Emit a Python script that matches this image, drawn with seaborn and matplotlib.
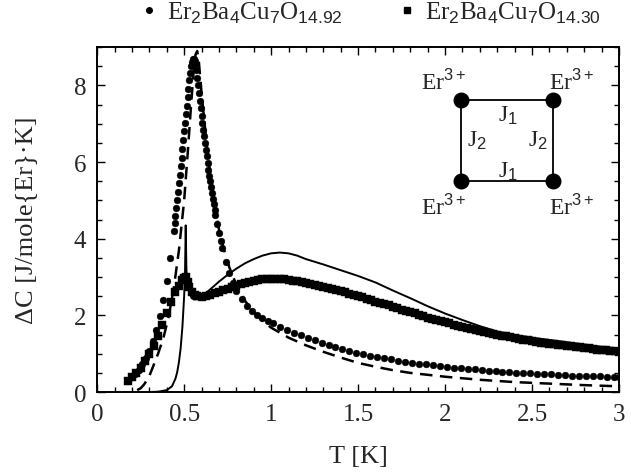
import numpy as np
import pandas as pd
import seaborn as sns
import matplotlib.pyplot as plt
from matplotlib.ticker import MultipleLocator

# measured points, Er2Ba4Cu7O14.92 (circles)
t_092 = [0.18, 0.20, 0.22, 0.24, 0.26, 0.28, 0.30, 0.32, 0.34, 0.36, 0.38, 0.40, 0.42, 0.44,
         0.445, 0.45, 0.455, 0.46, 0.465, 0.47, 0.475, 0.48, 0.485, 0.49, 0.495, 0.50, 0.505,
         0.51, 0.515, 0.52, 0.525, 0.53, 0.535, 0.54, 0.545, 0.55, 0.555, 0.56, 0.565, 0.57,
         0.575, 0.58, 0.585, 0.59, 0.595, 0.60, 0.605, 0.61, 0.615, 0.62, 0.625, 0.63, 0.635,
         0.64, 0.645, 0.65, 0.655, 0.66, 0.665, 0.67, 0.675, 0.68, 0.69, 0.70, 0.71, 0.72,
         0.74, 0.76, 0.78, 0.80, 0.83, 0.86, 0.89, 0.92, 0.95, 0.98, 1.01, 1.05, 1.09, 1.13,
         1.17, 1.21, 1.25, 1.29, 1.33, 1.37, 1.41, 1.45, 1.49, 1.53, 1.57, 1.61, 1.65, 1.69,
         1.73, 1.77, 1.81, 1.85, 1.89, 1.93, 1.97, 2.01, 2.05, 2.09, 2.13, 2.17, 2.21, 2.25,
         2.29, 2.33, 2.37, 2.41, 2.45, 2.49, 2.53, 2.57, 2.61, 2.65, 2.69, 2.73, 2.77, 2.81,
         2.85, 2.89, 2.93, 2.97, 3.00]
c_092 = [0.30, 0.38, 0.47, 0.58, 0.72, 0.88, 1.08, 1.32, 1.62, 1.98, 2.40, 2.90, 3.50, 4.20,
         4.40, 4.60, 4.80, 5.00, 5.22, 5.45, 5.67, 5.90, 6.12, 6.35, 6.57, 6.80, 7.02,
         7.25, 7.47, 7.70, 7.92, 8.15, 8.33, 8.50, 8.62, 8.70, 8.70, 8.65, 8.55, 8.40,
         8.20, 8.00, 7.80, 7.60, 7.40, 7.20, 7.02, 6.85, 6.67, 6.50, 6.32, 6.15, 5.97,
         5.80, 5.65, 5.50, 5.35, 5.20, 5.05, 4.90, 4.76, 4.62, 4.38, 4.15, 3.95, 3.75,
         3.40, 3.10, 2.85, 2.65, 2.42, 2.25, 2.12, 2.02, 1.94, 1.86, 1.79, 1.70, 1.62, 1.55,
         1.48, 1.41, 1.35, 1.29, 1.23, 1.17, 1.12, 1.07, 1.02, 0.98, 0.94, 0.91, 0.88, 0.85,
         0.82, 0.79, 0.77, 0.74, 0.72, 0.70, 0.68, 0.66, 0.64, 0.62, 0.60, 0.59, 0.57, 0.56,
         0.54, 0.53, 0.52, 0.51, 0.50, 0.49, 0.48, 0.47, 0.46, 0.45, 0.44, 0.43, 0.43, 0.42,
         0.41, 0.41, 0.40, 0.39, 0.39]

# measured points, Er2Ba4Cu7O14.30 (squares)
t_030 = [0.175, 0.20, 0.225, 0.25, 0.275, 0.30, 0.325, 0.35, 0.375, 0.40, 0.425, 0.45, 0.47,
         0.49, 0.50, 0.51, 0.52, 0.53, 0.545, 0.56, 0.575, 0.60, 0.625, 0.65, 0.675, 0.70,
         0.725, 0.75, 0.775, 0.80, 0.825, 0.85, 0.875, 0.90, 0.925, 0.95, 0.975, 1.00, 1.025,
         1.05, 1.075, 1.10, 1.125, 1.15, 1.175, 1.20, 1.225, 1.25, 1.275, 1.30, 1.325, 1.35,
         1.375, 1.40, 1.425, 1.45, 1.475, 1.50, 1.525, 1.55, 1.575, 1.60, 1.625, 1.65, 1.675,
         1.70, 1.725, 1.75, 1.775, 1.80, 1.825, 1.85, 1.875, 1.90, 1.925, 1.95, 1.975, 2.00,
         2.025, 2.05, 2.075, 2.10, 2.125, 2.15, 2.175, 2.20, 2.225, 2.25, 2.275, 2.30, 2.325,
         2.35, 2.375, 2.40, 2.425, 2.45, 2.475, 2.50, 2.525, 2.55, 2.575, 2.60, 2.625, 2.65,
         2.675, 2.70, 2.725, 2.75, 2.775, 2.80, 2.825, 2.85, 2.875, 2.90, 2.925, 2.95, 2.975,
         3.00]
c_030 = [0.28, 0.38, 0.50, 0.64, 0.80, 0.98, 1.20, 1.45, 1.75, 2.05, 2.35, 2.60, 2.78,
         2.92, 2.98, 3.00, 2.88, 2.75, 2.62, 2.54, 2.50, 2.48, 2.50, 2.54, 2.58, 2.62,
         2.66, 2.70, 2.74, 2.78, 2.82, 2.85, 2.88, 2.91, 2.93, 2.95, 2.96, 2.96, 2.96,
         2.95, 2.94, 2.93, 2.91, 2.89, 2.87, 2.85, 2.82, 2.80, 2.77, 2.75, 2.72, 2.69,
         2.66, 2.63, 2.60, 2.57, 2.54, 2.50, 2.47, 2.43, 2.40, 2.36, 2.33, 2.29, 2.26,
         2.22, 2.19, 2.15, 2.12, 2.08, 2.05, 2.01, 1.98, 1.94, 1.91, 1.88, 1.85, 1.82,
         1.79, 1.76, 1.73, 1.70, 1.67, 1.64, 1.61, 1.59, 1.56, 1.54, 1.51, 1.49, 1.47,
         1.45, 1.43, 1.41, 1.39, 1.37, 1.35, 1.33, 1.31, 1.29, 1.28, 1.26, 1.25, 1.23,
         1.22, 1.21, 1.19, 1.18, 1.17, 1.15, 1.14, 1.13, 1.11, 1.10, 1.09, 1.07, 1.06,
         1.05]

# model curves
t_solid = [0.30, 0.35, 0.40, 0.43, 0.45, 0.46, 0.47, 0.48, 0.49, 0.50, 0.505, 0.509, 0.513,
           0.52, 0.53, 0.54, 0.555, 0.57, 0.59, 0.62, 0.66, 0.70, 0.75, 0.80, 0.85, 0.90,
           0.95, 1.00, 1.05, 1.10, 1.15, 1.20, 1.30, 1.40, 1.50, 1.60, 1.70, 1.80, 1.90,
           2.00, 2.10, 2.20, 2.30, 2.40, 2.50, 2.60, 2.70, 2.80, 2.90, 3.00]
c_solid = [0.00, 0.01, 0.05, 0.15, 0.35, 0.52, 0.78, 1.15, 1.70, 2.50, 3.10, 4.35, 3.20,
           2.80, 2.60, 2.48, 2.42, 2.42, 2.46, 2.56, 2.72, 2.88, 3.06, 3.22, 3.36, 3.47,
           3.56, 3.62, 3.64, 3.62, 3.56, 3.47, 3.33, 3.18, 3.03, 2.86, 2.65, 2.45, 2.24,
           2.05, 1.88, 1.72, 1.58, 1.49, 1.42, 1.36, 1.30, 1.24, 1.18, 1.13]

t_dash = [0.23, 0.25, 0.27, 0.30, 0.32, 0.35, 0.38, 0.41, 0.44, 0.47, 0.50, 0.52, 0.54,
          0.555, 0.565, 0.575, 0.585, 0.60, 0.62, 0.64, 0.66, 0.68, 0.70, 0.73, 0.76, 0.80,
          0.85, 0.90, 0.95, 1.00, 1.10, 1.20, 1.30, 1.40, 1.50, 1.60, 1.70, 1.80, 1.90,
          2.00, 2.20, 2.40, 2.60, 2.80, 3.00]
c_dash = [0.05, 0.10, 0.20, 0.42, 0.65, 1.00, 1.40, 1.95, 2.70, 3.70, 5.00, 6.20, 7.50,
          8.40, 8.80, 8.90, 8.60, 7.80, 6.90, 6.05, 5.35, 4.75, 4.25, 3.70, 3.25, 2.80,
          2.38, 2.08, 1.86, 1.68, 1.42, 1.22, 1.05, 0.90, 0.76, 0.66, 0.57, 0.50, 0.45,
          0.40, 0.32, 0.26, 0.22, 0.18, 0.15]

label_092 = r'Er$_2$Ba$_4$Cu$_7$O$_{14.92}$'
label_030 = r'Er$_2$Ba$_4$Cu$_7$O$_{14.30}$'

sns.set_style('ticks')
plt.rcParams['font.family'] = ['Liberation Serif', 'DejaVu Serif']
plt.rcParams['mathtext.fontset'] = 'custom'
plt.rcParams['mathtext.rm'] = 'Liberation Sans'
plt.rcParams['mathtext.it'] = 'Liberation Sans:italic'

fig, ax = plt.subplots(figsize=(6.31, 4.77), dpi=100)
fig.subplots_adjust(left=0.154, right=0.981, bottom=0.176, top=0.899)

df_092 = pd.DataFrame({'T': t_092, 'C': c_092})
df_030 = pd.DataFrame({'T': t_030, 'C': c_030})

sns.lineplot(x=t_solid, y=c_solid, ax=ax, color='black', lw=1.4, sort=False)
sns.lineplot(x=t_dash, y=c_dash, ax=ax, color='black', lw=1.8, sort=False,
             linestyle=(0, (5, 3)))
sns.scatterplot(data=df_030, x='T', y='C', ax=ax, marker='s', s=28, color='black',
                edgecolor='black', linewidth=0.3)
sns.scatterplot(data=df_092, x='T', y='C', ax=ax, marker='o', s=24, color='black',
                edgecolor='black', linewidth=0.3)

ax.set_xlim(0, 3)
ax.set_ylim(0, 9)
ax.xaxis.set_major_locator(MultipleLocator(0.5))
ax.xaxis.set_minor_locator(MultipleLocator(0.1))
ax.yaxis.set_major_locator(MultipleLocator(2))
ax.yaxis.set_minor_locator(MultipleLocator(0.5))
ax.set_xticks([0, 0.5, 1, 1.5, 2, 2.5, 3])
ax.set_xticklabels(['0', '0.5', '1', '1.5', '2', '2.5', '3'])
ax.tick_params(which='both', direction='in', top=True, right=True, labelsize=18,
               width=1.0, color='black')
ax.tick_params(which='major', length=6, pad=8)
ax.tick_params(which='minor', length=3.5)
for sp in ax.spines.values():
    sp.set_linewidth(1.4)
    sp.set_color('black')

ax.set_xlabel('T [K]', fontsize=19, labelpad=14)
ax.set_ylabel('ΔC [J/mole{Er}·K]', fontsize=19, labelpad=26)

# legend on top
h1 = plt.Line2D([], [], marker='o', color='black', linestyle='none', markersize=4)
h2 = plt.Line2D([], [], marker='s', color='black', linestyle='none', markersize=4.5)
ax.legend([h1, h2], [label_092, label_030], loc='lower center',
          bbox_to_anchor=(0.525, 1.035), ncol=2, frameon=False, fontsize=18,
          handlelength=0.6, handletextpad=0.4, columnspacing=2.3, borderaxespad=0.0)

# plaquette sketch
sq_x = [0.697, 0.873, 0.873, 0.697, 0.697]
sq_y = [0.847, 0.847, 0.611, 0.611, 0.847]
ax.plot(sq_x, sq_y, transform=ax.transAxes, color='black', lw=1.3)
ax.scatter(sq_x[:4], sq_y[:4], transform=ax.transAxes, s=110, color='black', zorder=5)
er = r'Er$^{3+}$'
for ex, ey in [(0.663, 0.901), (0.910, 0.901), (0.663, 0.539), (0.910, 0.539)]:
    ax.text(ex, ey, er, transform=ax.transAxes, fontsize=17, ha='center', va='center')
for jx, jy, jl in [(0.787, 0.806, r'J$_1$'), (0.787, 0.641, r'J$_1$'),
                   (0.728, 0.733, r'J$_2$'), (0.845, 0.733, r'J$_2$')]:
    ax.text(jx, jy, jl, transform=ax.transAxes, fontsize=17, ha='center', va='center')

plt.savefig('out.png', dpi=100)
